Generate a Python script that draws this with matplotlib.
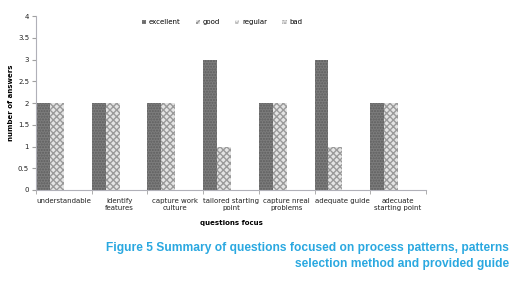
import matplotlib
matplotlib.use("Agg")
import matplotlib.pyplot as plt
import numpy as np

categories = ["understandable", "identify\nfeatures", "capture work\nculture", "tailored starting\npoint",
              "capture nreal\nproblems", "adequate guide", "adecuate\nstarting point"]
series_names = ["excellent", "good", "regular", "bad"]
excellent = [2, 2, 2, 3, 2, 3, 2]
good = [2, 2, 2, 1, 2, 1, 2]
regular = [0, 0, 0, 0, 0, 0, 0]
bad = [0, 0, 0, 0, 0, 0, 0]
yticks = [0, 0.5, 1, 1.5, 2, 2.5, 3, 3.5, 4]

fig = plt.figure(figsize=(5.15, 2.87), dpi=100)
ax = fig.add_axes([0.070, 0.338, 0.757, 0.606])

x = np.arange(len(categories))
w = 0.25
styles = [
    dict(facecolor="#7c7c7c", edgecolor="#5e5e5e", hatch="......"),
    dict(facecolor="#e4e4e4", edgecolor="#9a9a9a", hatch="xxxxx"),
    dict(facecolor="#f0f0f0", edgecolor="#c0c0c0", hatch="xxxxx"),
    dict(facecolor="#dcdcdc", edgecolor="#aaaaaa", hatch="....."),
]
data = [excellent, good, regular, bad]
for i, (name, vals, st) in enumerate(zip(series_names, data, styles)):
    ax.bar(x - 0.5 + w * i, vals, width=w, align="edge", label=name, linewidth=0, **st)

ax.set_xlim(-0.5, len(categories) - 0.5)
ax.set_ylim(0, 4)
ax.set_yticks(yticks)
ax.set_yticklabels([f"{t:g}" for t in yticks])
ax.set_xticks(x)
ax.set_xticklabels(categories, fontsize=5, color="#222222")
ax.set_xticks(np.arange(len(categories) + 1) - 0.5, minor=True)
ax.tick_params(axis="x", which="major", length=0, pad=6)
ax.tick_params(axis="x", which="minor", length=3, color="#a0a0a0")
ax.tick_params(axis="y", labelsize=5, length=3, color="#a0a0a0", labelcolor="#222222", pad=2)
for s in ["top", "right"]:
    ax.spines[s].set_visible(False)
for s in ["left", "bottom"]:
    ax.spines[s].set_color("#b0b0b8")
    ax.spines[s].set_linewidth(0.8)

ax.set_ylabel("number of answers", fontsize=5, fontweight="bold", labelpad=3)
ax.set_xlabel("questions focus", fontsize=5, fontweight="bold", labelpad=6)

leg = ax.legend(loc="upper center", bbox_to_anchor=(0.477, 1.018), ncol=4, frameon=False, fontsize=5,
                handlelength=0.6, handleheight=0.6, handletextpad=0.4, columnspacing=2.2)

fig.text(0.988, 0.109, "Figure 5 Summary of questions focused on process patterns, patterns\nselection method and provided guide",
         ha="right", va="center", fontsize=8.65, fontweight="bold",
         family=["Liberation Sans", "DejaVu Sans"],
         color="#2aa8e0", linespacing=1.4)

fig.savefig("out.png", dpi=100)
